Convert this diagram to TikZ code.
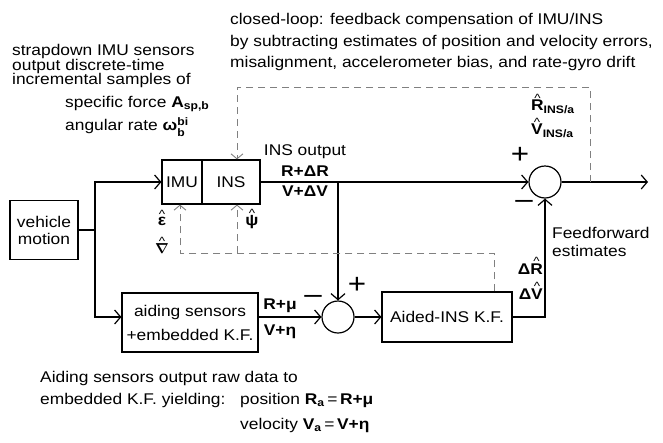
\documentclass[tikz,border=0pt]{standalone}
\usepackage{amsmath}
\usepackage{amssymb}
\usepackage{fontspec}
\setmainfont{Liberation Sans}[FakeStretch=1.12]
\usetikzlibrary{arrows.meta}
\usetikzlibrary{calc}

% caret over a symbol (estimate)
\newcommand{\est}[1]{\vbox{\offinterlineskip\halign{\hfil##\hfil\cr{\fontsize{12}{12}\selectfont\textasciicircum}\cr\noalign{\kern-2pt}#1\cr}}}

\begin{document}
\begin{tikzpicture}[x=1pt,y=-1pt,font=\fontsize{15.5}{14}\selectfont,
  box/.style={draw,line width=1.2pt,inner sep=0pt,align=center},
  sum/.style={draw,circle,line width=1.2pt,minimum size=32pt,inner sep=0pt},
  lbl/.style={inner sep=0pt,align=left,anchor=west},
  sig/.style={line width=1.2pt,-{Straight Barb[length=6pt,width=14pt]}},
  fb/.style={gray,line width=0.9pt,dash pattern=on 7pt off 5pt,-{Straight Barb[length=5pt,width=12pt]}},
  sign/.style={inner sep=0pt,font=\fontsize{28}{28}\selectfont}]
  \useasboundingbox (0,0) rectangle (663,442);

  % blocks
  \node[box,minimum width=68pt,minimum height=59pt,font=\fontsize{15.5}{17}\selectfont] (vm) at (44,230) {vehicle\\motion};
  \node[box,minimum width=40pt,minimum height=44pt] (imu) at (182,182) {IMU};
  \node[box,minimum width=58pt,minimum height=44pt] (ins) at (231,182) {INS};
  \node[box,minimum width=136pt,minimum height=59pt,font=\fontsize{15.5}{24}\selectfont] (aid) at (190,322.5) {aiding sensors\\+embedded K.F.};
  \node[box,minimum width=130pt,minimum height=50pt] (kf) at (447,317) {Aided-INS K.F.};
  \node[sum] (sumA) at (545,182) {};
  \node[sum] (sumB) at (338,317) {};

  % texts
  \node[lbl,font=\fontsize{15.5}{14.5}\selectfont] (imutxt) at (12,66) {strapdown IMU sensors\\output discrete-time\\incremental samples of};
  \node[lbl] (force) at (65,104) {specific force \textbf{A}$_{\text{\textbf{sp,b}}}$};
  \node[lbl] (rate) at (65,127) {angular rate \textbf{ω}$^{\text{\textbf{bi}}}_{\text{\textbf{b}}}$};
  \node[lbl,font=\fontsize{15.5}{21.5}\selectfont] (loop) at (230,42) {closed-loop: feedback compensation of IMU/INS\\by subtracting estimates of position and velocity errors,\\misalignment, accelerometer bias, and rate-gyro drift};
  \node[lbl] (rins) at (531,104) {\est{\textbf{R}}$_{\text{\textbf{INS/a}}}$};
  \node[lbl] (vins) at (531,128) {\est{\textbf{V}}$_{\text{\textbf{INS/a}}}$};
  \node[inner sep=0pt,align=center,font=\fontsize{15.5}{20.5}\selectfont] (insout) at (305,171) {INS output\\\textbf{R+ΔR}\\\textbf{V+ΔV}};
  \node[lbl,font=\fontsize{15.5}{18}\selectfont] (ff) at (552,242) {Feedforward\\estimates};
  \node[anchor=east,inner sep=0pt] (dr) at (543,266) {\textbf{Δ}\est{\textbf{R}}};
  \node[anchor=east,inner sep=0pt] (dv) at (543,291) {\textbf{Δ}\est{\textbf{V}}};
  \node[inner sep=0pt] (eps) at (162,218) {\est{\textbf{ε}}};
  \node[inner sep=0pt] (nab) at (162,245) {\est{$\boldsymbol{\nabla}$}};
  \node[inner sep=0pt] (psi) at (252,219) {\est{\textbf{ψ}}};
  \node[inner sep=0pt] (rmu) at (280,306) {\textbf{R+μ}};
  \node[inner sep=0pt] (veta) at (280,332) {\textbf{V+η}};
  \node[sign] (pA) at (520,155) {+};
  \node[sign] (mA) at (524,204) {–};
  \node[sign] (pB) at (357,285) {+};
  \node[sign] (mB) at (313,299) {–};
  \node[lbl,font=\fontsize{15.5}{22}\selectfont] (raw) at (40,389) {Aiding sensors output raw data to\\embedded K.F. yielding:};
  \node[lbl] (pos) at (240,400) {position \textbf{R}$_{\text{\textbf{a}}}$\,=\,\textbf{R+μ}};
  \node[lbl] (vel) at (240,425) {velocity \textbf{V}$_{\text{\textbf{a}}}$\,=\,\textbf{V+η}};

  % signal paths
  \coordinate (fork) at (95,230);
  \coordinate (tap) at (338,182);
  \coordinate (out) at (648,182);
  \draw[line width=1.2pt] (vm.east) -- (fork);
  \draw[sig] (fork) |- (imu.west);
  \draw[sig] (fork) |- (aid.west |- sumB.west);
  \draw[sig] (ins.east) -- (sumA.west);
  \draw[sig] (tap) -- (sumB.north);
  \draw[sig] (sumA.east) -- (out);
  \draw[sig] (aid.east |- sumB.west) -- (sumB.west);
  \draw[sig] (sumB.east) -- (kf.west);
  \draw[sig] (kf.east) -| (sumA.south);

  % feedback (dashed)
  \coordinate (pick) at (590,182);
  \coordinate (fbT) at (237,87);
  \coordinate (fbB) at (494,253);
  \coordinate (fbI) at (180,253);
  \coordinate (fbN) at (237,253);
  \draw[fb] (pick) |- (fbT) -- (fbT |- ins.north);
  \draw[fb] (fbB |- kf.north) -- (fbB) -- (fbI) -- (fbI |- imu.south);
  \draw[fb] (fbN) -- (fbN |- ins.south);
\end{tikzpicture}
\end{document}
